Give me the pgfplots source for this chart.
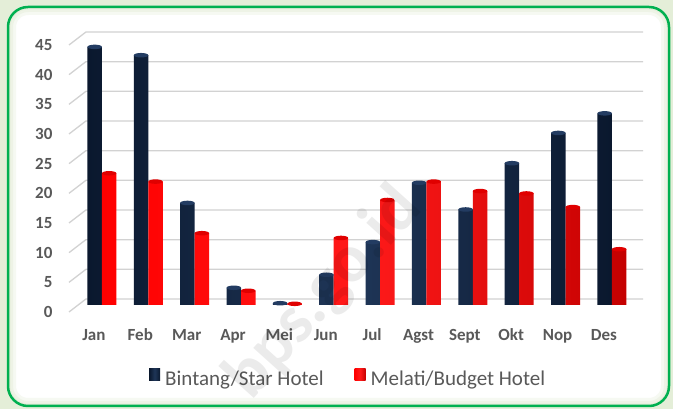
\documentclass[border=0pt]{standalone}
\usepackage{pgfplots}
\pgfplotsset{compat=1.18}
\usetikzlibrary{shapes.geometric}
\usepackage{fontspec}
\setmainfont{Carlito}
\definecolor{navyc}{HTML}{0F2341}
\definecolor{navyl}{HTML}{1F3658}
\definecolor{navyd}{HTML}{0A182E}
\definecolor{navycap}{HTML}{233C62}
\definecolor{redc}{HTML}{FF0000}
\definecolor{redl}{HTML}{FF1A1A}
\definecolor{redd}{HTML}{C40000}
\definecolor{redcap}{HTML}{E00000}
\definecolor{txt}{HTML}{595959}
\definecolor{gridc}{HTML}{D2D2D2}
\definecolor{borderc}{HTML}{00B050}
\definecolor{outerc}{HTML}{E4EED8}
\definecolor{glowc}{HTML}{DCE8CC}
\begin{document}
\begin{tikzpicture}[x=1pt,y=1pt]
\useasboundingbox (0,0) rectangle (673,409);
\fill[outerc] (0,0) rectangle (673,409);
\fill[white, rounded corners=20pt] (8,3) rectangle (669,402);
\begin{scope}
\clip[rounded corners=20pt] (8,3) rectangle (669,402);
\foreach \w/\o in {16/0.25, 10/0.3, 5/0.4}{
  \draw[line width=\w pt, glowc, opacity=\o, rounded corners=20pt] (8,3) rectangle (669,402);
}
\end{scope}
\draw[borderc, line width=2.5pt, rounded corners=20pt] (8,3) rectangle (669,402);

\begin{axis}[
  at={(69pt,104pt)}, anchor=south west,
  scale only axis, width=574pt, height=267pt,
  xmin=-0.71, xmax=11.67, ymin=0, ymax=45,
  ybar=0pt, bar width=14.5pt,
  axis line style={draw=none},
  major tick length=0pt,
  clip=false,
  xtick={0,...,11},
  xticklabels={Jan,Feb,Mar,Apr,Mei,Jun,Jul,Agst,Sept,Okt,Nop,Des},
  ytick={0,5,...,45},
  /pgf/number format/assume math mode=true,
  ticklabel style={font=\bfseries\fontsize{17}{20}\selectfont, text=txt},
  xticklabel style={anchor=base, yshift=-36pt, xshift=-8pt},
  yticklabel style={anchor=east, xshift=-13pt, yshift=-7pt},
  legend columns=2,
  legend style={at={(0.1394,-0.277)}, anchor=west, draw=none, fill=none,
    inner sep=0pt, font=\fontsize{21}{24}\selectfont, text=txt,
    /tikz/every even column/.append style={column sep=26pt},
    nodes={inner xsep=5pt}},
]
\pgfplotsinvokeforeach{0,5,...,45}{
  \draw[gridc, line width=1.3pt] ([yshift=-7pt]axis cs:-0.71,#1) -- ([yshift=6pt]axis cs:-0.345,#1) -- ([yshift=6pt]axis cs:11.67,#1);
}
\addplot[draw=none, left color=navyd, right color=navyd, middle color=navyl,
  nodes near coords={},
  every node near coord/.append style={anchor=center, ellipse, minimum width=14.5pt, minimum height=4.5pt, inner sep=0pt, top color=navycap, bottom color=navycap},
  legend image code/.code={\fill[navyc] (0pt,-1pt) rectangle (11pt,10.5pt);}]
coordinates {(0,43.5) (1,42.1) (2,17.2) (3,2.9) (4,0.3) (5,5.1) (6,10.6) (7,20.6) (8,16.1) (9,23.9) (10,29.0) (11,32.3)};
\addlegendentry{Bintang/Star Hotel}
\addplot[draw=none, left color=redc, right color=redd, middle color=redl,
  nodes near coords={},
  every node near coord/.append style={anchor=center, ellipse, minimum width=14.5pt, minimum height=4.5pt, inner sep=0pt, top color=redcap, bottom color=redcap},
  legend image code/.code={\fill[redc] (0pt,-1pt) rectangle (11pt,10.5pt);}]
coordinates {(0,22.2) (1,20.8) (2,12.1) (3,2.4) (4,0.2) (5,11.3) (6,17.7) (7,20.8) (8,19.2) (9,18.8) (10,16.5) (11,9.4)};
\addlegendentry{Melati/Budget Hotel}
\end{axis}
\node[rotate=48, text=black, opacity=0.08, font=\bfseries\fontsize{68}{80}\selectfont] at (324,116) {bps.go.id};
\end{tikzpicture}
\end{document}
